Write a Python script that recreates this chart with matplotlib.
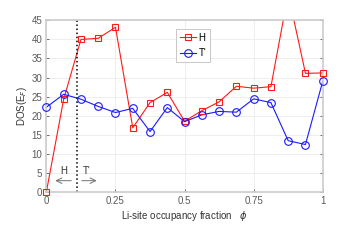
import matplotlib.pyplot as plt
import numpy as np

plt.rcParams['font.family'] = ['Liberation Sans', 'DejaVu Sans']

phi = np.arange(17) / 16.
dosH = [0.0, 24.3, 40.0, 40.3, 43.2, 16.8, 23.4, 26.1, 18.5, 21.3, 23.6,
        27.7, 27.2, 27.6, 52.0, 31.1, 31.2]
dosT = [22.2, 25.6, 24.3, 22.4, 20.8, 21.9, 15.8, 22.1, 18.4, 20.2, 21.1,
        20.9, 24.4, 23.4, 13.4, 12.4, 29.0]
xticks = [0, 0.25, 0.5, 0.75, 1]
xticklabels = ['0', '0.25', '0.5', '0.75', '1']
yticks = list(range(0, 46, 5))
phi_cut = 0.111

fig = plt.figure(figsize=(3.57, 2.43), dpi=100)
ax = fig.add_axes([0.130, 0.211, 0.774, 0.705])

red = '#ff1a1a'
blue = '#1a1aff'
# lines clipped to the box, markers allowed on the box edge
ax.plot(phi, dosH, '-', color=red, lw=0.8)
ax.plot(phi, dosT, '-', color=blue, lw=0.8)
hm = np.ma.masked_greater(dosH, 45)
ax.plot(phi, hm, 's', color=red, mfc='none', ms=4.5, mew=0.8, clip_on=False, zorder=3)
ax.plot(phi, dosT, 'o', color=blue, mfc='none', ms=5.5, mew=0.8, clip_on=False, zorder=3)
# legend handles
ax.plot([], [], '-s', color=red, mfc='none', ms=4.5, mew=0.8, lw=0.8, label='H')
ax.plot([], [], '-o', color=blue, mfc='none', ms=5.5, mew=0.8, lw=0.8, label="T'")

ax.axvline(phi_cut, color='k', ls=':', lw=1.1)

# H / T' regions
ax.annotate('', xy=(0.022, 2.9), xytext=(0.100, 2.9),
            arrowprops=dict(arrowstyle='->', color='0.45', lw=0.7))
ax.annotate('', xy=(0.192, 2.9), xytext=(0.118, 2.9),
            arrowprops=dict(arrowstyle='->', color='0.45', lw=0.7))
ax.text(0.064, 5.5, 'H', fontsize=7, color='0.2', ha='center', va='center')
ax.text(0.147, 5.5, "T'", fontsize=7, color='0.2', ha='center', va='center')

ax.set_xlim(0, 1)
ax.set_ylim(0, 45)
ax.set_xticks(xticks)
ax.set_xticklabels(xticklabels)
ax.set_yticks(yticks)
ax.grid(True, color='0.92', lw=0.6)
ax.tick_params(direction='in', length=2.5, width=0.6, colors='0.35',
               labelsize=7, top=False, right=True, pad=3)
for s in ax.spines.values():
    s.set_color('0.8')
    s.set_linewidth(1.2)

ax.set_xlabel(r'Li-site occupancy fraction   $\phi$', fontsize=7, color='0.2', labelpad=2)
ax.set_ylabel(r'DOS(E$_F$)', fontsize=7, color='0.2', labelpad=2)

leg = ax.legend(loc='upper left', bbox_to_anchor=(0.452, 0.98), fontsize=7,
                handlelength=1.6, handletextpad=0.3, borderpad=0.4,
                labelspacing=0.6, fancybox=False, framealpha=1)
leg.get_frame().set_edgecolor('0.75')
leg.get_frame().set_linewidth(0.6)

fig.savefig('out.png', dpi=100)
